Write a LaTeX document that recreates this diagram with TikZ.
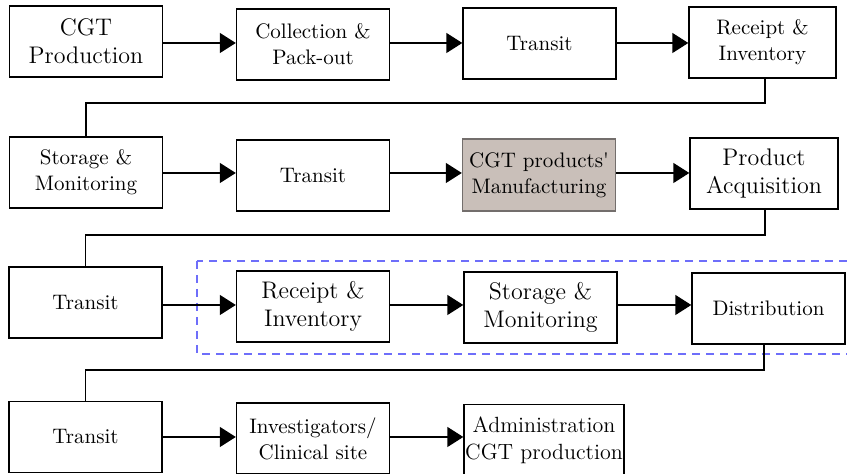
\documentclass[tikz,border=0pt]{standalone}
\usepackage{tikz}
\usetikzlibrary{arrows.meta}
\definecolor{mfgfill}{RGB}{201,191,185}
\definecolor{mfgline}{RGB}{115,110,108}
\definecolor{zoneblue}{RGB}{110,110,250}
\newcommand{\sm}{\fontsize{10.5}{13}\selectfont}
\newcommand{\bg}{\fontsize{12}{14}\selectfont}

\begin{document}
\begin{tikzpicture}[x=0.5pt,y=-0.5pt,
    box/.style={draw,line width=0.7pt,inner sep=0pt,align=center,
        minimum width=76.5pt,minimum height=35.5pt,font=\sm},
    big/.style={font=\bg},
    arr/.style={line width=0.7pt,-{Triangle[length=8pt,width=10pt]}},
    link/.style={line width=0.7pt}]
    \useasboundingbox (0,0) rectangle (847,474);
    % row 1
    \node[box,big] (cgt) at (86,41.5) {CGT\\Production};
    \node[box] (collect) at (313,44.5) {Collection \&\\Pack-out};
    \node[box] (transitA) at (539.5,43.5) {Transit};
    \node[box,minimum width=73.5pt] (receiptA) at (762.5,42.5) {Receipt \&\\Inventory};
    % row 2
    \node[box] (storageA) at (86,172.5) {Storage \&\\Monitoring};
    \node[box] (transitB) at (313,175.5) {Transit};
    \node[box,fill=mfgfill,draw=mfgline,minimum height=36pt] (mfg) at (539,175) {CGT products\textquotesingle\\Manufacturing};
    \node[box,big,minimum width=74pt] (acquis) at (764,173.5) {Product\\Acquisition};
    % row 3
    \node[box] (transitC) at (85.5,302.5) {Transit};
    \node[box,big] (receiptB) at (313,306.5) {Receipt \&\\Inventory};
    \node[box,big] (storageB) at (540.5,307.5) {Storage \&\\Monitoring};
    \node[box] (distrib) at (768.5,308.5) {Distribution};
    % row 4
    \node[box] (transitD) at (85.5,437) {Transit};
    \node[box] (invest) at (313,438.5) {Investigators/\\Clinical site};
    \node[box,font=\fontsize{11}{13.5}\selectfont,minimum width=80pt] (admin) at (544,440) {Administration\\CGT production};
    % dashed zone
    \draw[zoneblue,dashed,dash pattern=on 4pt off 3pt,line width=0.6pt] (197,261) rectangle (870,354);
    % arrows
    \draw[arr] (cgt.east |- 0,43) -- (collect.west |- 0,43);
    \draw[arr] (collect.east |- 0,43) -- (transitA.west |- 0,43);
    \draw[arr] (transitA.east |- 0,43) -- (receiptA.west |- 0,43);
    \draw[arr] (storageA.east |- 0,173) -- (transitB.west |- 0,173);
    \draw[arr] (transitB.east |- 0,173) -- (mfg.west |- 0,173);
    \draw[arr] (mfg.east |- 0,173) -- (acquis.west |- 0,173);
    \draw[arr] (transitC.east |- 0,305) -- (receiptB.west |- 0,305);
    \draw[arr] (receiptB.east |- 0,305) -- (storageB.west |- 0,305);
    \draw[arr] (storageB.east |- 0,305) -- (distrib.west |- 0,305);
    \draw[arr] (transitD.east |- 0,437) -- (invest.west |- 0,437);
    \draw[arr] (invest.east |- 0,437) -- (admin.west |- 0,437);
    % row links
    \draw[link] (receiptA.south -| 765,0) -- (765,103) -| (storageA.north);
    \draw[link] (acquis.south -| 765,0) -- (765,235) -| (transitC.north);
    \draw[link] (distrib.south -| 764,0) -- (764,370) -| (transitD.north);
\end{tikzpicture}
\end{document}
